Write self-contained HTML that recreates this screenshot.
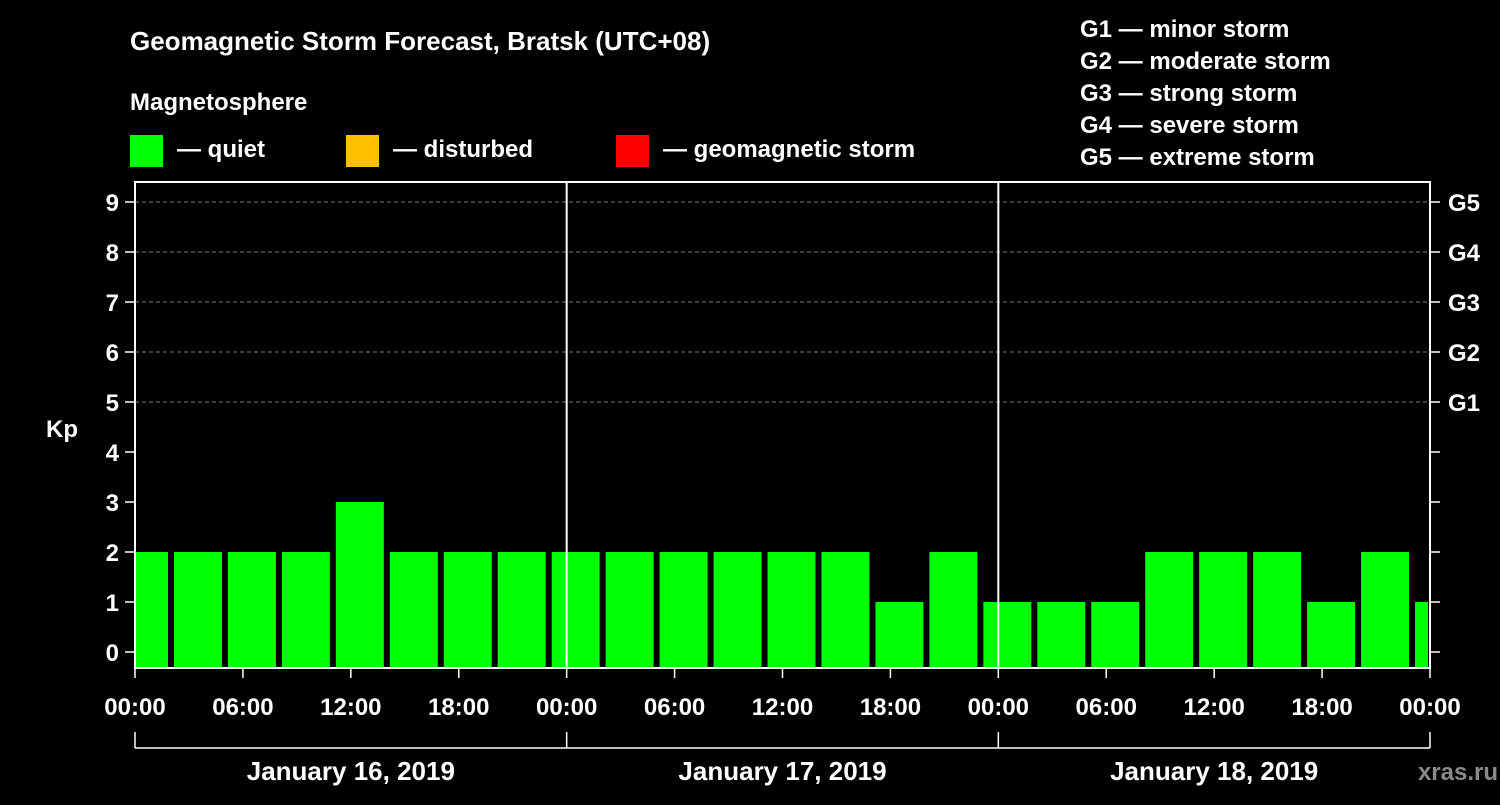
<!DOCTYPE html>
<html><head><meta charset="utf-8"><style>
body{margin:0;background:#000;width:1500px;height:800px;overflow:hidden}
svg text{font-family:"Liberation Sans",Arial,sans-serif;font-weight:bold;fill:#fff}
</style></head><body>
<svg id="chart" width="1500" height="800" xmlns="http://www.w3.org/2000/svg">
<rect width="1500" height="800" fill="#000"/>
<text x="130" y="50" font-size="26">Geomagnetic Storm Forecast, Bratsk (UTC+08)</text>
<text x="130" y="110" font-size="24">Magnetosphere</text>
<g><rect x="130" y="135" width="33" height="32" fill="#00ff00"/><text x="177" y="157" font-size="24">— quiet</text></g>
<g><rect x="346" y="135" width="33" height="32" fill="#ffc000"/><text x="393" y="157" font-size="24">— disturbed</text></g>
<g><rect x="616" y="135" width="33" height="32" fill="#ff0000"/><text x="663" y="157" font-size="24">— geomagnetic storm</text></g>
<g font-size="24">
<text x="1080" y="37">G1 — minor storm</text>
<text x="1080" y="69">G2 — moderate storm</text>
<text x="1080" y="101">G3 — strong storm</text>
<text x="1080" y="133">G4 — severe storm</text>
<text x="1080" y="165">G5 — extreme storm</text>
</g>
<g id="plot"></g>
<text x="1498" y="780" font-size="24" text-anchor="end" fill="#888" style="fill:#8a8a8a">xras.ru</text>
</svg>
<script>
const kpValues=[2,2,2,2,3,2,2,2,2,2,2,2,2,2,1,2,1,1,1,2,2,2,1,2,1];
const yTicks=[0,1,2,3,4,5,6,7,8,9];
const gLabels=["G1","G2","G3","G4","G5"];
const xTickLabels=["00:00","06:00","12:00","18:00","00:00","06:00","12:00","18:00","00:00","06:00","12:00","18:00","00:00"];
const dayLabels=["January 16, 2019","January 17, 2019","January 18, 2019"];
const startHour=-1, stepHours=3;
const L=135,R=1430,T=182,B=668;
const pxH=(R-L)/72;
const X=h=>L+h*pxH;
const Y=v=>652-v*50;
const g=document.getElementById('plot');
const NS='http://www.w3.org/2000/svg';
function mk(t,a){const e=document.createElementNS(NS,t);for(const k in a)e.setAttribute(k,a[k]);g.appendChild(e);return e;}
// grid
[5,6,7,8,9].forEach(v=>{const e=mk('line',{x1:L,x2:R,y1:Y(v),y2:Y(v),stroke:'#777','stroke-dasharray':'4,3','stroke-width':1});

});
// bars
kpValues.forEach((v,i)=>{const h0=startHour+i*stepHours;let x0=X(h0)+3,x1=X(h0+stepHours)-3;x0=Math.max(x0,L+1);x1=Math.min(x1,R-2);
const c=v>=5?'#ff0000':(v>=4?'#ffc000':'#00ff00');
const e=mk('rect',{x:x0,y:Y(v),width:x1-x0,height:B-Y(v),fill:c});

});
// frame
const fr=mk('rect',{x:L,y:T,width:R-L,height:B-T,fill:'none',stroke:'#fff','stroke-width':2});


[1,2].forEach(d=>{const e=mk('line',{x1:X(d*24),x2:X(d*24),y1:T,y2:B,stroke:'#fff','stroke-width':2});

});
// y ticks
yTicks.forEach(v=>{mk('line',{x1:L-10,x2:L,y1:Y(v),y2:Y(v),stroke:'#fff','stroke-width':1.5});
mk('line',{x1:R,x2:R+10,y1:Y(v),y2:Y(v),stroke:'#fff','stroke-width':1.5});
const t=mk('text',{x:L-16,y:Y(v)+9,'font-size':24,'text-anchor':'end'});t.textContent=v;

});
gLabels.forEach((s,i)=>{const t=mk('text',{x:R+18,y:Y(5+i)+9,'font-size':24});t.textContent=s;

});
const yt=mk('text',{x:62,y:437,'font-size':24,'text-anchor':'middle'});yt.textContent='Kp';


// x ticks
xTickLabels.forEach((s,i)=>{const x=X(i*6);mk('line',{x1:x,x2:x,y1:B,y2:B+10,stroke:'#fff','stroke-width':1.5});
const t=mk('text',{x:x,y:715,'font-size':24,'text-anchor':'middle'});t.textContent=s;

});
mk('line',{x1:L,x2:R,y1:748,y2:748,stroke:'#fff','stroke-width':1.5});
[0,1,2,3].forEach(d=>mk('line',{x1:X(d*24),x2:X(d*24),y1:732,y2:748,stroke:'#fff','stroke-width':1.5}));
dayLabels.forEach((s,i)=>{const t=mk('text',{x:X(i*24+12),y:780,'font-size':26,'text-anchor':'middle'});t.textContent=s;

});
</script>
</body></html>
